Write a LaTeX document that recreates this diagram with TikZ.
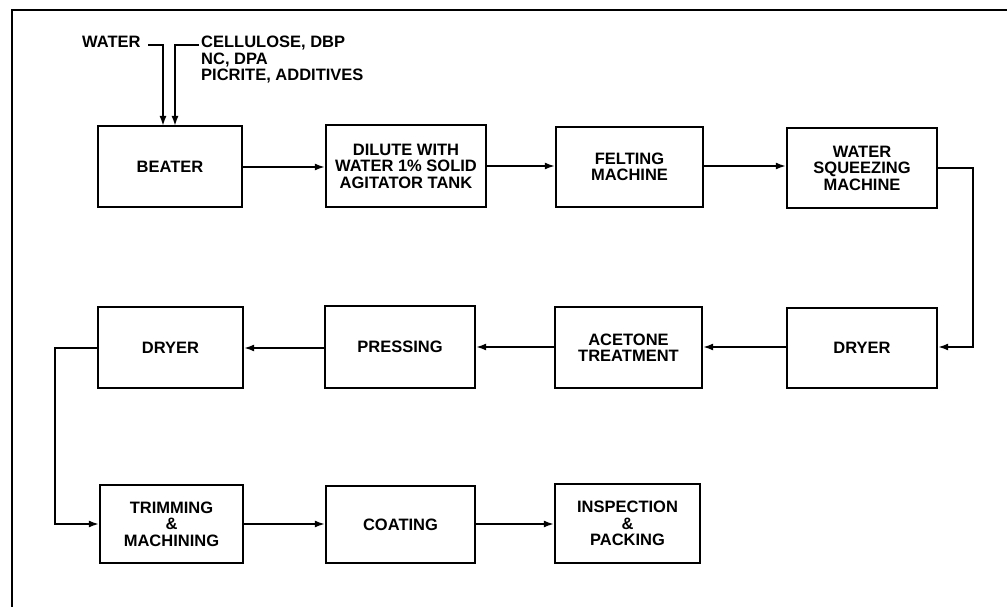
\documentclass[tikz,border=0pt]{standalone}
\usepackage{fontspec}
\setmainfont{Liberation Sans}
\usetikzlibrary{arrows.meta}
\begin{document}
\begin{tikzpicture}[x=1pt,y=-1pt,
  box/.style={draw,line width=2.2pt,rectangle,inner sep=0pt,align=center,
    font=\fontsize{16.5}{16.5}\selectfont\bfseries},
  conn/.style={line width=1.8pt,-{Latex[length=10pt,width=7pt]}},
  lbl/.style={inner sep=0pt,font=\fontsize{16.5}{16.5}\selectfont\bfseries}]
\useasboundingbox (0,0) rectangle (1007,607);
% frame
\draw[line width=1.8pt] (12,607) -- (12,10) -- (1007,10);
% row 1
\node[box,minimum width=144pt,minimum height=81pt] (beater) at (170,166.5) {BEATER};
\node[box,minimum width=160pt,minimum height=82pt] (dilute) at (406,166) {DILUTE WITH\\WATER 1\% SOLID\\AGITATOR TANK};
\node[box,minimum width=147pt,minimum height=80pt] (felt) at (629.5,167) {FELTING\\MACHINE};
\node[box,minimum width=150pt,minimum height=80pt] (squeeze) at (862,168) {WATER\\SQUEEZING\\MACHINE};
% row 2
\node[box,minimum width=150pt,minimum height=80pt] (dryer1) at (862,348) {DRYER};
\node[box,minimum width=147pt,minimum height=81pt] (acetone) at (628.5,347.5) {\fontsize{16.5}{14}\selectfont ACETONE\\TREATMENT};
\node[box,minimum width=150pt,minimum height=82pt] (press) at (400,347) {PRESSING};
\node[box,minimum width=145pt,minimum height=81pt] (dryer2) at (170.5,347.5) {DRYER};
% row 3
\node[box,minimum width=143pt,minimum height=78pt] (trim) at (171.5,524) {TRIMMING\\\&\\MACHINING};
\node[box,minimum width=149pt,minimum height=77pt] (coat) at (400.5,524.5) {COATING};
\node[box,minimum width=145pt,minimum height=79pt] (insp) at (627.5,523.5) {INSPECTION\\\&\\PACKING};
% inputs
\node[lbl,anchor=base west] (water) at (82,48) {WATER};
\node[lbl,anchor=north west,align=left] (cell) at (201,36) {CELLULOSE, DBP\\NC, DPA\\PICRITE, ADDITIVES};
\coordinate (w1) at (148,45);
\coordinate (c1) at (199,45);
\draw[conn] (w1) -- (163,45) -- (163,126);
\draw[conn] (c1) -- (175,45) -- (175,126);
% connectors row 1
\draw[conn] (beater.east |- 0,167) -- (dilute.west |- 0,167);
\draw[conn] (dilute.east |- 0,166) -- (felt.west |- 0,166);
\draw[conn] (felt.east |- 0,166) -- (squeeze.west |- 0,166);
\draw[conn] (squeeze.east |- 0,168) -- (973,168) -- (973,347) -- (dryer1.east |- 0,347);
% row 2
\draw[conn] (dryer1.west |- 0,347) -- (acetone.east |- 0,347);
\draw[conn] (acetone.west |- 0,347) -- (press.east |- 0,347);
\draw[conn] (press.west |- 0,348) -- (dryer2.east |- 0,348);
\draw[conn] (dryer2.west |- 0,348) -- (55,348) -- (55,524) -- (trim.west |- 0,524);
% row 3
\draw[conn] (trim.east |- 0,524) -- (coat.west |- 0,524);
\draw[conn] (coat.east |- 0,524) -- (insp.west |- 0,524);
\end{tikzpicture}
\end{document}
